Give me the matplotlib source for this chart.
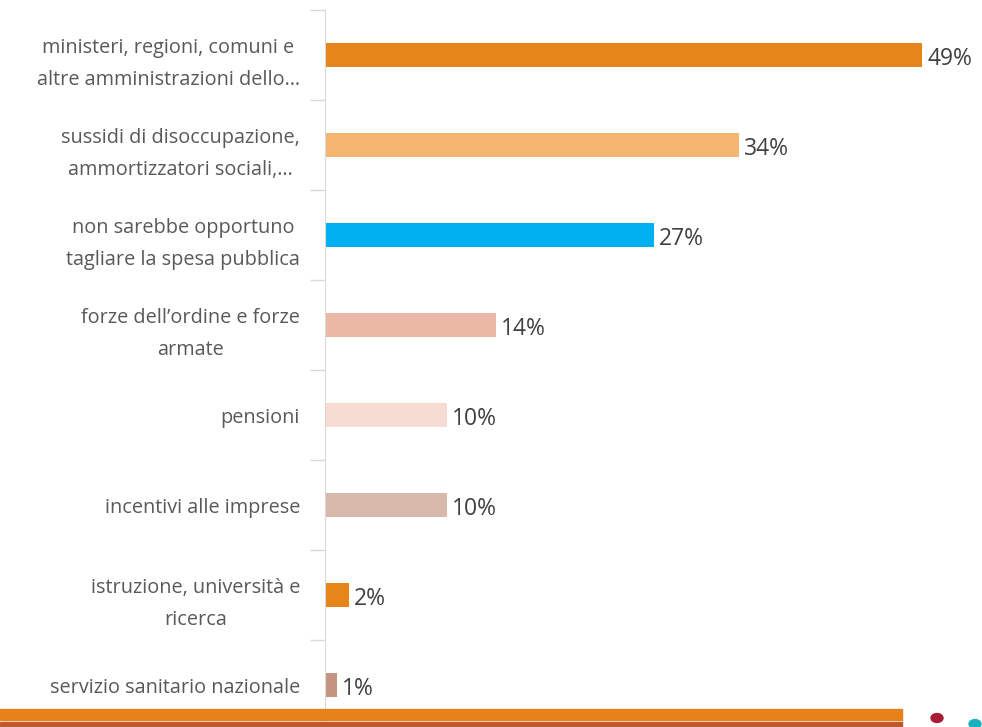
import matplotlib.pyplot as plt
from matplotlib.patches import Rectangle, Circle

# dati
categorie = [
    "ministeri, regioni, comuni e\naltre amministrazioni dello…",
    "sussidi di disoccupazione,\nammortizzatori sociali,…",
    "non sarebbe opportuno\ntagliare la spesa pubblica",
    "forze dell’ordine e forze\narmate",
    "pensioni",
    "incentivi alle imprese",
    "istruzione, università e\nricerca",
    "servizio sanitario nazionale",
]
valori = [49, 34, 27, 14, 10, 10, 2, 1]
colori = ["#E6851A", "#F3B56F", "#00B0F0", "#EBB8A5",
          "#F6DCD2", "#D9B8AC", "#E6851A", "#C49481"]

plt.rcParams['font.family'] = ['Open Sans', 'DejaVu Sans']

W, H = 982, 727
fig = plt.figure(figsize=(W / 100, H / 100), dpi=100)

# banda in basso
fig.patches.append(Rectangle((0, 1 - 720 / H), 902 / W, 11 / H, transform=fig.transFigure,
                             color="#E5831A", zorder=0))
fig.patches.append(Rectangle((0, 0), 902 / W, 5 / H, transform=fig.transFigure,
                             color="#C0582D", zorder=0))
# logo (approssimato)
fig.patches.append(Circle((937 / W, 1 - 718 / H), 6 / W, transform=fig.transFigure,
                          color="#A61C34", zorder=0))
fig.patches.append(Circle((975 / W, 1 - 724 / H), 6 / W, transform=fig.transFigure,
                          color="#1BAFC0", zorder=0))

ax = fig.add_axes([325 / W, 1 - 730 / H, (960 - 325) / W, 720 / H])
ax.set_facecolor("none")

y = list(range(len(categorie)))
ax.barh(y, valori, height=0.27, color=colori, zorder=2)
for yi, v in zip(y, valori):
    ax.text(v + 0.4, yi + 0.04, f"{v}%", va="center", ha="left", fontsize=16.5, color="#404040")

ax.set_ylim(len(categorie) - 0.5, -0.5)
ax.set_xlim(0, 52.1)
ax.set_yticks(y)
ax.set_yticklabels(categorie, fontsize=14.3, color="#595959",
                   multialignment="center", linespacing=1.85)
ax.tick_params(axis="y", which="major", length=0, pad=18)
ax.set_yticks([i - 0.5 for i in range(len(categorie) + 1)], minor=True)
ax.tick_params(axis="y", which="minor", length=11, color="#D9D9D9", width=1)
ax.set_xticks([])
for s in ["top", "right", "bottom"]:
    ax.spines[s].set_visible(False)
ax.spines["left"].set_color("#D9D9D9")
ax.spines["left"].set_zorder(3)

fig.savefig("out.png", dpi=100)
